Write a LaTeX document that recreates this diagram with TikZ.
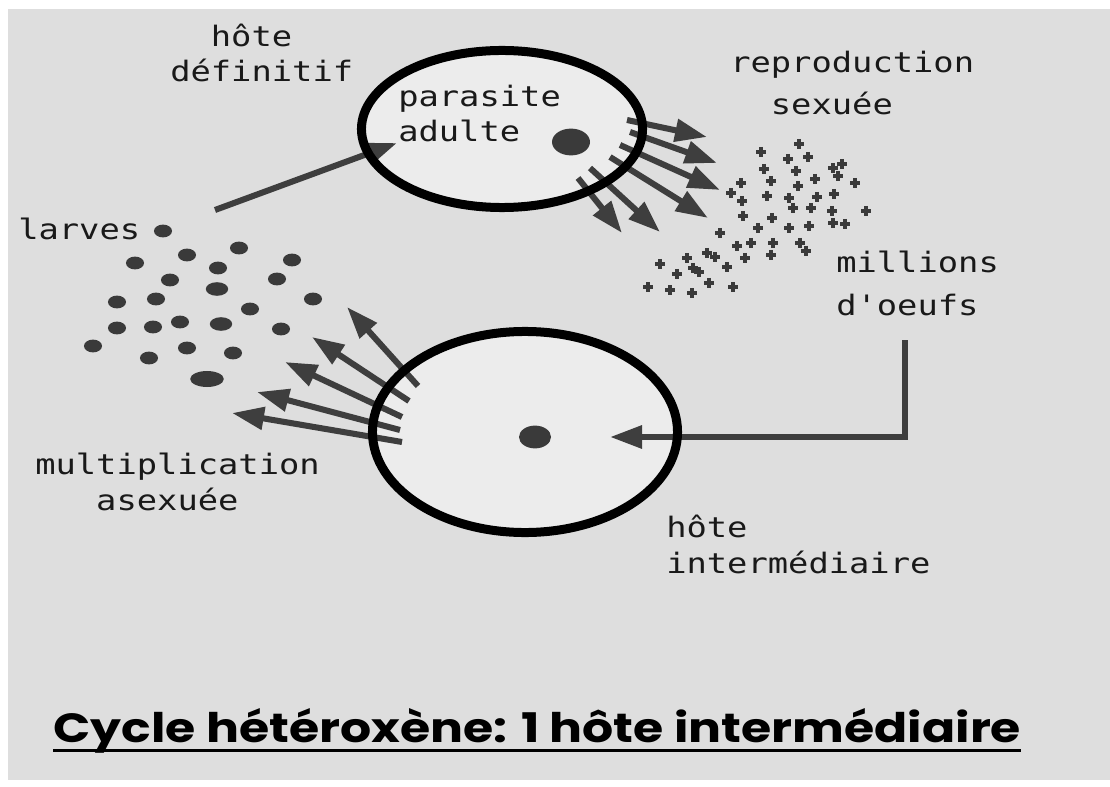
\documentclass[tikz,border=0pt]{standalone}
\usepackage{fontspec}
\usepackage{tikz}
\usetikzlibrary{shapes.geometric, arrows.meta}
\newfontfamily\labelfont{DejaVu Sans Mono}[FakeStretch=1.2, Ligatures=TeXOff]
\newfontfamily\titlefont{Poppins}[FakeStretch=1.2]
\definecolor{paper}{RGB}{222,222,222}
\definecolor{hostfill}{RGB}{236,236,236}
\definecolor{arrowgray}{RGB}{62,62,62}
\definecolor{dotgray}{RGB}{58,58,58}

\begin{document}
\begin{tikzpicture}[
    x=0.025cm, y=-0.025cm,
    host/.style={ellipse, fill=hostfill, inner sep=0pt},
    ring/.style={line width=6.4pt, black},
    core/.style={ellipse, fill=dotgray, inner sep=0pt},
    lbl/.style={font=\labelfont\fontsize{20pt}{25.5pt}\selectfont, align=left, anchor=base west, inner sep=0pt, text=black!90},
    arrow/.style={-{Triangle[length=0.8cm, width=0.55cm]}, line width=4.3pt, arrowgray},
    larva/.style={fill=dotgray},
    egg/.style={line width=0.085cm, dotgray}
]
% Paper
\useasboundingbox (0,0) rectangle (1110,787);
\fill[white] (0,0) rectangle (1110,787);
\fill[paper] (8,9) rectangle (1110,780);

% Hosts
\node[host, minimum width=7.025cm, minimum height=3.925cm] (defhost) at (502,129) {};
\node[host, minimum width=7.625cm, minimum height=5.025cm] (inthost) at (525,432) {};

% Eggs
\foreach \x/\y in {799/144, 761/152, 788/159, 808/157, 764/169, 796/171, 833/168, 842/164,
    741/183, 771/181, 798/186, 815/179, 838/176, 855/183, 731/193, 742/201, 767/196, 789/198,
    817/197, 834/194, 793/208, 811/208, 832/211, 866/211, 743/216, 772/218, 720/233, 758/228,
    789/228, 809/226, 833/223, 845/224, 737/246, 751/243, 773/243, 800/243, 806/251, 707/253,
    715/257, 745/258, 771/255, 687/258, 660/264, 693/268, 699/272, 727/267, 677/274, 709/283,
    648/287, 670/290, 692/293, 733/287}
  \draw[egg] (\x,\y) +(-5,0) -- +(5,0) +(0,-5) -- +(0,5);

% Larvae
\foreach \x/\y in {163/231, 239/248, 187/255, 135/263, 292/260, 218/268, 170/280, 277/279,
    117/302, 156/299, 313/299, 250/309, 117/328, 153/327, 180/322, 281/329, 93/346, 187/348,
    233/353, 149/358}
  \fill[larva] (\x,\y) ellipse [x radius=0.225cm, y radius=0.16cm];
\fill[larva] (217,289) ellipse [x radius=0.28cm, y radius=0.17cm];
\fill[larva] (221,324) ellipse [x radius=0.28cm, y radius=0.17cm];
\fill[larva] (207,379) ellipse [x radius=0.42cm, y radius=0.2cm];

% Arrows
\foreach \a/\b/\c/\d in {125/-9/80/17, 128/3/87/31, 118/16/100/45, 108/28/98/61, 88/39/70/64, 76/49/44/55}
  \draw[arrow] ([shift={(\a,\b)}]defhost.center) -- ++(\c,\d);
\foreach \a/\b/\c/\d in {-107/-46/-71/-79, -116/-31/-97/-64, -123/-15/-117/-55, -125/-2/-143/-38, -123/10/-170/-29}
  \draw[arrow] ([shift={(\a,\b)}]inthost.center) -- ++(\c,\d);
\coordinate (larvastart) at (215,210);
\draw[arrow] (larvastart) -- ([shift={(-105,14)}]defhost.center);
\coordinate (eggdrop) at (905,340);
\draw[arrow] (eggdrop) |- ([shift={(85,5)}]inthost.center);

% Rings and nuclei
\draw[ring] (defhost.center) ellipse [x radius=3.5125cm, y radius=1.9625cm];
\draw[ring] (inthost.center) ellipse [x radius=3.8125cm, y radius=2.5125cm];
\node[core, minimum width=0.95cm, minimum height=0.67cm] (adultcore) at (571,142) {};
\node[core, minimum width=0.8cm, minimum height=0.57cm] (intcore) at (535,437) {};

% Labels
\node[lbl] (definitif) at (170,82) {\phantom{dé}hôte\\définitif};
\node[lbl] (adulte) at (398,142) {parasite\\adulte};
\node[lbl] (sexuee) at (730,115) {reproduction\\[0.17cm]\phantom{re}sexuée};
\node[lbl] (larves) at (18,240) {larves};
\node[lbl] (oeufs) at (836,315) {millions\\[0.16cm]d'oeufs};
\node[lbl] (asexuee) at (35,510) {multiplication\\\phantom{mul}asexuée};
\node[lbl] (intermediaire) at (666,573) {hôte\\intermédiaire};

% Title
\node[font=\titlefont\bfseries\fontsize{29pt}{34pt}\selectfont, anchor=base west, inner sep=0pt] (title) at (53,742) {Cycle hétéroxène: 1 hôte intermédiaire};
\draw[line width=0.075cm] ([yshift=-0.2cm]title.base west) -- ([yshift=-0.2cm]title.base east);
\end{tikzpicture}
\end{document}
